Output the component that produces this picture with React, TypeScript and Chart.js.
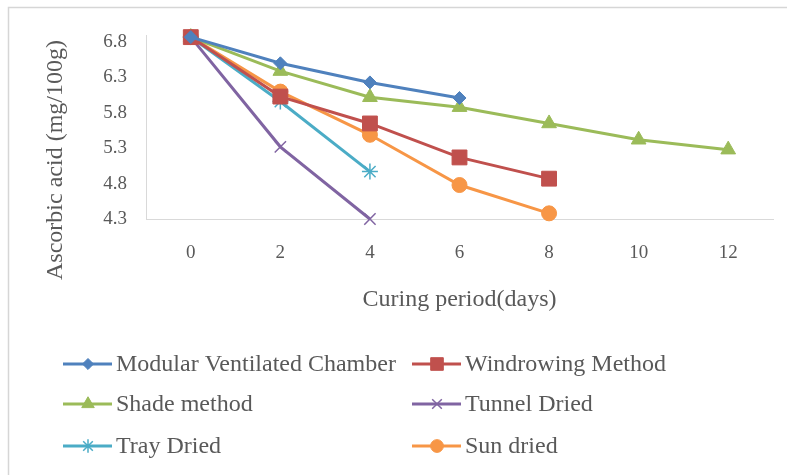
import React, { useEffect, useRef } from 'react';
import { Chart, registerables } from 'chart.js';
import { drawPoint } from 'chart.js/helpers';

Chart.register(...registerables);

const days = ['0', '2', '4', '6', '8', '10', '12'];
const modular = [6.87, 6.5, 6.23, 6.01];
const windrowing = [6.87, 6.03, 5.65, 5.17, 4.87];
const shade = [6.87, 6.39, 6.02, 5.88, 5.65, 5.42, 5.28];
const tunnel = [6.87, 5.32, 4.3];
const tray = [6.87, 5.96, 4.97];
const sun = [6.87, 6.1, 5.49, 4.78, 4.38];
const yTicks = [4.3, 4.8, 5.3, 5.8, 6.3, 6.8];
const yMin = 4.3;
const yMax = 6.9;

const seriesLabels = [
  'Modular Ventilated Chamber',
  'Windrowing Method',
  'Shade method',
  'Tunnel Dried',
  'Tray Dried',
  'Sun dried',
];

const FONT = '"Liberation Serif", "DejaVu Serif", serif';
const TEXT = '#595959';

const gridLegend = {
  id: 'gridLegend',
  afterDraw(chart: any) {
    const ctx = chart.ctx;
    const colX = [63, 412];
    const rowY = [364, 404, 446];
    chart.data.datasets.forEach((ds: any, i: number) => {
      const x0 = colX[i % 2];
      const y = rowY[Math.floor(i / 2)];
      ctx.save();
      ctx.strokeStyle = ds.borderColor;
      ctx.lineWidth = 3;
      ctx.beginPath();
      ctx.moveTo(x0, y);
      ctx.lineTo(x0 + 49, y);
      ctx.stroke();
      ctx.fillStyle = ds.pointBackgroundColor;
      ctx.strokeStyle = ds.pointBorderColor;
      ctx.lineWidth = ds.pointBorderWidth;
      drawPoint(ctx, { pointStyle: ds.pointStyle, rotation: 0, radius: ds.pointRadius * 0.85, borderWidth: ds.pointBorderWidth } as any, x0 + 25, y);
      ctx.fillStyle = TEXT;
      ctx.font = `24px ${FONT}`;
      ctx.textBaseline = 'middle';
      ctx.textAlign = 'left';
      ctx.fillText(ds.label, x0 + 53, y + 1);
      ctx.restore();
    });
  },
};

const frameAndTitle = {
  id: 'frameAndTitle',
  beforeDraw(chart: any) {
    const ctx = chart.ctx;
    ctx.save();
    ctx.fillStyle = '#ffffff';
    ctx.fillRect(0, 0, chart.width, chart.height);
    ctx.strokeStyle = '#d6d6d6';
    ctx.lineWidth = 1.5;
    ctx.beginPath();
    ctx.moveTo(8.5, chart.height);
    ctx.lineTo(8.5, 7.5);
    ctx.lineTo(chart.width, 7.5);
    ctx.stroke();
    ctx.restore();
  },
  afterDraw(chart: any) {
    const ctx = chart.ctx;
    ctx.save();
    ctx.translate(56, 160);
    ctx.rotate(-Math.PI / 2);
    ctx.fillStyle = TEXT;
    ctx.font = `24px ${FONT}`;
    ctx.textAlign = 'center';
    ctx.textBaseline = 'middle';
    ctx.fillText('Ascorbic acid (mg/100g)', 0, 0);
    ctx.restore();
  },
};

function makeDataset(label: string, data: number[], color: string, style: string, radius: number, bw: number) {
  return {
    label,
    data,
    borderColor: color,
    backgroundColor: color,
    pointBackgroundColor: color,
    pointBorderColor: color,
    pointStyle: style,
    pointRadius: radius,
    pointHoverRadius: radius,
    pointBorderWidth: bw,
    borderWidth: 3,
    tension: 0,
    clip: false as any,
  };
}

export default function App() {
  const ref = useRef<HTMLCanvasElement | null>(null);
  useEffect(() => {
    if (!ref.current) return;
    const chart = new Chart(ref.current, {
      type: 'line',
      data: {
        labels: days,
        datasets: [
          makeDataset(seriesLabels[0], modular, '#4F81BD', 'rectRot', 6.5, 1),
          makeDataset(seriesLabels[1], windrowing, '#C0504D', 'rect', 10.5, 1),
          makeDataset(seriesLabels[2], shade, '#9BBB59', 'triangle', 8.5, 1),
          makeDataset(seriesLabels[3], tunnel, '#8064A2', 'crossRot', 8, 1.5),
          makeDataset(seriesLabels[4], tray, '#4BACC6', 'star', 8, 1.5),
          makeDataset(seriesLabels[5], sun, '#F79646', 'circle', 7.5, 1),
        ] as any,
      },
      options: {
        animation: false,
        responsive: false,
        layout: { padding: { left: 0, right: 14, top: 35, bottom: 0 } },
        plugins: {
          legend: { display: false },
          tooltip: { enabled: false },
        },
        scales: {
          x: {
            type: 'category',
            offset: true,
            grid: { display: false, drawTicks: false },
            border: { display: true, color: '#d9d9d9', width: 1 },
            ticks: { color: TEXT, font: { family: FONT, size: 19 }, padding: 23, maxRotation: 0 },
            title: {
              display: true,
              text: 'Curing period(days)',
              color: TEXT,
              font: { family: FONT, size: 24 },
              padding: { top: 0, bottom: 161 },
            },
            afterFit: (s: any) => {
              s.height = 256;
            },
          },
          y: {
            type: 'linear',
            min: yMin,
            max: yMax,
            grid: { display: false, drawTicks: false },
            border: { display: true, color: '#d9d9d9', width: 1 },
            ticks: {
              color: TEXT,
              font: { family: FONT, size: 19 },
              padding: 19,
              callback: (v: any) => Number(v).toFixed(1),
            },
            afterBuildTicks: (s: any) => {
              s.ticks = yTicks.map((v) => ({ value: v }));
            },
            afterFit: (s: any) => {
              s.width = 146;
            },
          },
        },
      },
      plugins: [frameAndTitle, gridLegend],
    });
    return () => chart.destroy();
  }, []);
  return (
    <div style={{ position: 'fixed', left: 0, top: 0, width: 787, height: 475 }}>
      <canvas ref={ref} width={787} height={475} style={{ display: 'block', width: 787, height: 475 }} />
    </div>
  );
}
